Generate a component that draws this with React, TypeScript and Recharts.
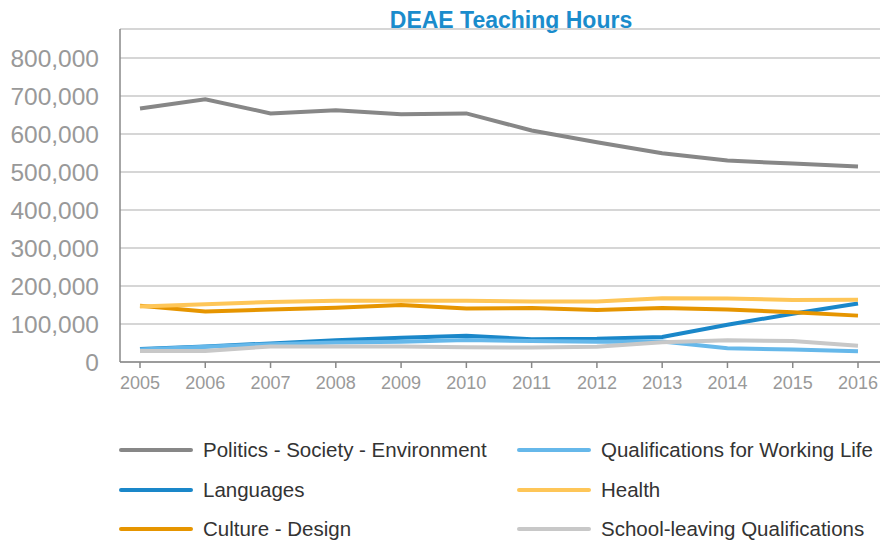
import { LineChart, Line, XAxis, YAxis, CartesianGrid } from "recharts";

const years = ["2005", "2006", "2007", "2008", "2009", "2010", "2011", "2012", "2013", "2014", "2015", "2016"];

const politics = [667000, 691000, 654000, 662000, 652000, 654000, 609000, 578000, 549000, 530000, 522000, 514000];
const languages = [34000, 41000, 49000, 57000, 64000, 69000, 60000, 61000, 66000, 98000, 127000, 154000];
const culture = [148000, 133000, 138000, 143000, 150000, 141000, 142000, 137000, 142000, 138000, 131000, 122000];
const workingLife = [33000, 40000, 47000, 51000, 53000, 58000, 55000, 53000, 54000, 36000, 33000, 28000];
const health = [146000, 152000, 158000, 161000, 161000, 161000, 159000, 159000, 168000, 167000, 163000, 164000];
const schoolLeaving = [29000, 29000, 41000, 41000, 41000, 39000, 38000, 40000, 52000, 57000, 55000, 43000];

const yTicks = [0, 100000, 200000, 300000, 400000, 500000, 600000, 700000, 800000];

const series = [
  { key: "politics", name: "Politics - Society - Environment", values: politics, color: "#878787" },
  { key: "languages", name: "Languages", values: languages, color: "#1a87c9" },
  { key: "culture", name: "Culture - Design", values: culture, color: "#e69500" },
  { key: "workingLife", name: "Qualifications for Working Life", values: workingLife, color: "#66b8ea" },
  { key: "health", name: "Health", values: health, color: "#fec658" },
  { key: "schoolLeaving", name: "School-leaving Qualifications", values: schoolLeaving, color: "#c8c8c8" },
];

const data = years.map((year, i) => {
  const row: Record<string, string | number> = { year };
  series.forEach((s) => {
    row[s.key] = s.values[i];
  });
  return row;
});

const font = "'Liberation Sans', Arial, sans-serif";

const App = () => {
  // legend: column-major, 3 rows x 2 columns
  const legendCols = [series.slice(0, 3), series.slice(3, 6)];
  const colX = [119, 517];
  const rowY = [450, 490, 529];

  return (
    <div style={{ position: "absolute", left: 0, top: 0, width: 889, height: 543, background: "#fff", fontFamily: font }}>
      <div
        style={{
          position: "absolute",
          top: 7,
          left: 0,
          width: 1022,
          textAlign: "center",
          fontSize: 23,
          fontWeight: "bold",
          color: "#1a8ccc",
        }}
      >
        DEAE Teaching Hours
      </div>
      <LineChart width={889} height={400} data={data} margin={{ top: 29, right: 9, left: 0, bottom: 0 }}>
        <CartesianGrid vertical={false} stroke="#c8c8c8" strokeWidth={1.5} />
        <XAxis
          dataKey="year"
          height={38}
          padding={{ left: 20, right: 22 }}
          stroke="#888"
          strokeWidth={1.5}
          tickSize={6}
          tickMargin={8}
          tick={{ fill: "#999", fontSize: 18, fontFamily: font }}
          interval={0}
        />
        <YAxis
          width={120}
          domain={[0, 876000]}
          ticks={yTicks}
          tickLine={false}
          tickSize={6}
          tickMargin={15}
          stroke="#888"
          strokeWidth={1.5}
          tick={{ fill: "#999", fontSize: 24.5, fontFamily: font }}
          tickFormatter={(v: number) => v.toLocaleString("en-US")}
        />
        {series.map((s) => (
          <Line
            key={s.key}
            dataKey={s.key}
            name={s.name}
            stroke={s.color}
            strokeWidth={4}
            dot={false}
            type="linear"
            isAnimationActive={false}
          />
        ))}
      </LineChart>
      {legendCols.map((col, ci) =>
        col.map((s, ri) => (
          <div
            key={s.key}
            style={{ position: "absolute", left: colX[ci], top: rowY[ri] - 12, height: 24, display: "flex", alignItems: "center" }}
          >
            <span style={{ width: 74, height: 4, borderRadius: 2, background: s.color, display: "inline-block" }} />
            <span style={{ marginLeft: 10, fontSize: 20.5, color: "#333", whiteSpace: "nowrap" }}>{s.name}</span>
          </div>
        ))
      )}
    </div>
  );
};

export default App;
